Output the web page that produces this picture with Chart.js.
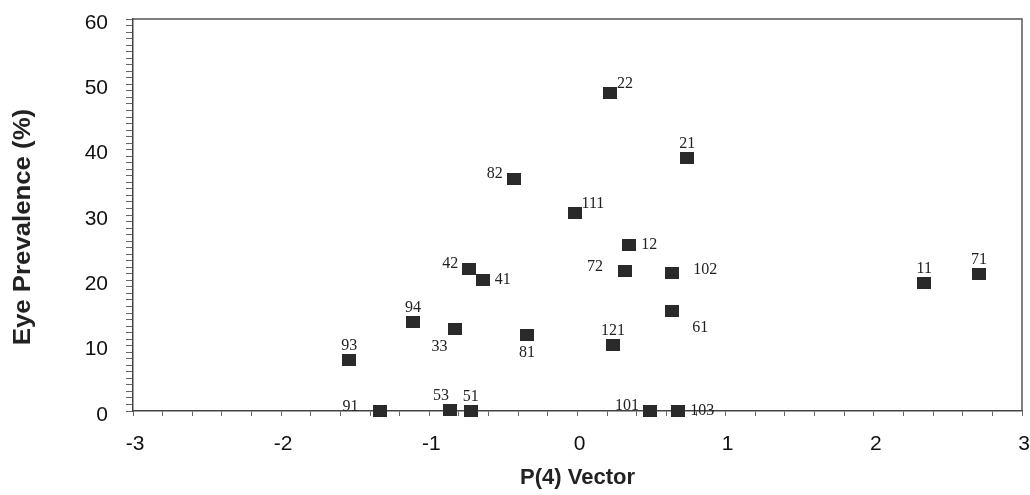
<!DOCTYPE html>
<html>
<head>
<meta charset="utf-8">
<script src="https://cdn.jsdelivr.net/npm/chart.js@4"></script>
<style>
  html, body { margin: 0; padding: 0; background: #fff; }
  #wrap { width: 1030px; height: 495px; position: relative; }
</style>
</head>
<body>
<div id="wrap"><canvas id="chart"></canvas></div>
<script>
// site ids, P(4) vector score and eye prevalence (%)
const siteLabels = ["22", "21", "82", "111", "12", "42", "41", "72", "102", "61",
  "94", "33", "81", "121", "93", "91", "53", "51", "101", "103", "11", "71"];
const vectorScore = [0.22, 0.74, -0.43, -0.02, 0.35, -0.73, -0.64, 0.32, 0.64, 0.64,
  -1.11, -0.83, -0.34, 0.24, -1.54, -1.33, -0.86, -0.72, 0.49, 0.68, 2.34, 2.71];
const eyePrevalence = [48.7, 38.7, 35.5, 30.3, 25.4, 21.7, 20.1, 21.4, 21.1, 15.3,
  13.6, 12.6, 11.6, 10.1, 7.8, 0, 0.2, 0, 0, 0, 19.6, 21.0];
// where each label sits relative to its marker
const labelSide = ["ar", "a", "l", "ar", "r", "l", "r", "L", "R", "br",
  "a", "bl", "b", "a", "a", "L", "al", "a", "l", "r", "a", "a"];

const points = vectorScore.map((x, i) => ({ x: x, y: eyePrevalence[i] }));

// slightly wide filled square, like the original markers
const marker = document.createElement("canvas");
marker.width = 14;
marker.height = 12;
const mctx = marker.getContext("2d");
mctx.fillStyle = "#2a2a2a";
mctx.fillRect(0, 0, 14, 12);

// draws the site id next to each marker
const pointLabels = {
  id: "pointLabels",
  afterDatasetsDraw(chart) {
    const ctx = chart.ctx;
    const meta = chart.getDatasetMeta(0);
    ctx.save();
    ctx.font = "16px 'Liberation Serif', 'DejaVu Serif', serif";
    ctx.fillStyle = "#222";
    meta.data.forEach((pt, i) => {
      let x = pt.x, y = pt.y;
      let align = "center", base = "middle";
      switch (labelSide[i]) {
        case "r": x += 12; align = "left"; break;
        case "R": x += 21; y -= 3; align = "left"; break;
        case "l": x -= 11; y -= 5; align = "right"; break;
        case "L": x -= 22; y -= 4; align = "right"; break;
        case "a": y -= 6; base = "bottom"; break;
        case "b": y += 10; base = "top"; break;
        case "ar": x += 7; y -= 1; align = "left"; base = "bottom"; break;
        case "al": x -= 9; y -= 6; base = "bottom"; break;
        case "br": x += 28; y += 9; base = "top"; break;
        case "bl": x -= 15; y += 10; base = "top"; break;
      }
      ctx.textAlign = align;
      ctx.textBaseline = base;
      ctx.fillText(siteLabels[i], x, y);
    });
    ctx.restore();
  }
};

// top and right edges of the plot box, plus the rotated y title
const frame = {
  id: "frame",
  beforeDatasetsDraw(chart) {
    const { ctx, chartArea: a } = chart;
    ctx.save();
    ctx.strokeStyle = "#555";
    ctx.lineWidth = 1.5;
    ctx.beginPath();
    ctx.moveTo(a.left, a.top);
    ctx.lineTo(a.right, a.top);
    ctx.lineTo(a.right, a.bottom);
    ctx.stroke();

    ctx.translate(24, 227);
    ctx.rotate(-Math.PI / 2);
    ctx.scale(1.12, 1);
    ctx.font = "bold 23px 'Liberation Sans', Arial, sans-serif";
    ctx.fillStyle = "#222";
    ctx.textAlign = "center";
    ctx.textBaseline = "middle";
    ctx.fillText("Eye Prevalence (%)", 0, 0);
    ctx.restore();
  }
};

const tickFont = { family: "'Liberation Sans', Arial, sans-serif", size: 21 };

new Chart(document.getElementById("chart"), {
  type: "scatter",
  data: {
    datasets: [{
      data: points,
      pointStyle: marker,
      pointRadius: 7,
      pointHoverRadius: 7,
      clip: false
    }]
  },
  options: {
    responsive: true,
    maintainAspectRatio: false,
    animation: false,
    layout: { padding: { top: 19, right: 7, left: 0, bottom: 0 } },
    plugins: {
      legend: { display: false },
      tooltip: { enabled: false }
    },
    scales: {
      x: {
        type: "linear",
        min: -3,
        max: 3,
        afterFit(s) { s.height = 84; s.paddingLeft = 0; s.paddingRight = 0; },
        border: { color: "#444", width: 1.5 },
        grid: { drawOnChartArea: false, tickLength: 5, tickColor: "#666" },
        ticks: {
          stepSize: 0.2,
          maxTicksLimit: 100,
          autoSkip: false,
          maxRotation: 0,
          padding: 16,
          labelOffset: 2,
          color: "#111",
          font: tickFont,
          callback: (v) => Math.abs(v - Math.round(v)) < 1e-6 ? String(Math.round(v)) : ""
        },
        title: {
          display: true,
          text: "P(4) Vector",
          color: "#222",
          font: { family: "'Liberation Sans', Arial, sans-serif", size: 22, weight: "bold" },
          padding: { top: 0, bottom: 4 }
        }
      },
      y: {
        min: 0,
        max: 60,
        afterFit(s) { s.width = 133; s.paddingTop = 0; s.paddingBottom = 0; },
        border: { color: "#444", width: 1.5 },
        grid: { drawOnChartArea: false, tickLength: 7, tickColor: "#666" },
        ticks: {
          stepSize: 1,
          maxTicksLimit: 100,
          autoSkip: false,
          padding: 18,
          labelOffset: 4,
          color: "#111",
          font: tickFont,
          callback: (v) => Math.round(v) % 10 === 0 ? String(Math.round(v)) : ""
        }
      }
    }
  },
  plugins: [frame, pointLabels]
});
</script>
</body>
</html>
